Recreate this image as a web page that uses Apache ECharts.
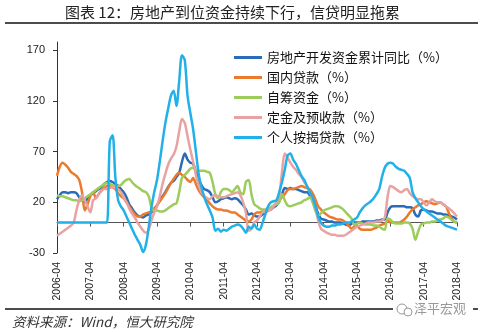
<!DOCTYPE html>
<html>
<head>
<meta charset="utf-8">
<script src="https://cdn.jsdelivr.net/npm/echarts@6/dist/echarts.min.js"></script>
<style>
  html, body { margin: 0; padding: 0; background: #fff; }
  #chart { width: 483px; height: 332px; }
</style>
</head>
<body>
<div id="chart"></div>
<script>
// Monthly categories, 2006-04 .. 2018-04
const months = [];
for (let y = 2006, m = 4; y < 2018 || (y === 2018 && m <= 4); ) {
  months.push(y + '-' + String(m).padStart(2, '0'));
  m++; if (m > 12) { m = 1; y++; }
}

const yTicks = [-30, 20, 70, 120, 170];

const seriesNames = [
  '房地产开发资金累计同比（%）',
  '国内贷款（%）',
  '自筹资金（%）',
  '定金及预收款（%）',
  '个人按揭贷款（%）'
];

// 房地产开发资金累计同比
const devFunds = [
  23, 27, 30, 30, 29, 30, 30, 29, 25, 22, 20, 24,
  27, 29, 31, 33, 35, 38, 40, 41, 40, 38, 36, 33,
  30, 25, 18, 14, 10, 7, 6, 5, 7, 8, 10, 13,
  17, 22, 26, 30, 35, 39, 41, 45, 49, 60, 68, 62,
  59, 58, 50, 42, 37, 33, 32, 30, 25, 20, 21, 23,
  24, 25, 24, 23, 24, 23, 20, 17, 13, 8, 9, 7,
  6, 6, 8, 10, 12, 13, 15, 17, 21, 28, 34, 33,
  34, 33, 33, 32, 31, 30, 30, 27, 24, 17, 9, 4,
  3, 2, 1, 1, 0, 0, 0, -1, -2, -3, -1, 0,
  0, 0, 1, 1, 1, 1, 1, 2, 2, 3, 3, 10,
  15, 16, 16, 16, 16, 16, 15, 15, 14, 8, 6, 12,
  13, 12, 11, 11, 10, 9, 9, 8, 8, 7, 6, 5, 3
];

// 国内贷款
const domesticLoans = [
  46, 55, 59, 57, 54, 50, 48, 46, 42, 30, 12, 18,
  26, 30, 24, 28, 32, 34, 36, 36, 35, 33, 29, 26,
  24, 20, 16, 12, 8, 6, 6, 8, 9, 10, 11, 14,
  17, 21, 25, 29, 34, 39, 43, 47, 49, 47, 45, 42,
  40, 44, 38, 32, 28, 25, 22, 19, 16, 14, 13, 13,
  12, 12, 11, 10, 10, 8, 6, 4, 2, 1, 3, 8,
  10, 10, 11, 11, 12, 13, 16, 19, 23, 25, 28, 32,
  33, 33, 34, 35, 36, 35, 34, 33, 29, 23, 16, 13,
  10, 8, 6, 5, 4, 3, 3, 2, 0, -3, -6, -4,
  -3, -6, -7, -7, -7, -7, -6, -5, -3, -2, -1, 2,
  0, 0, 0, 0, 1, 3, 6, 10, 13, 15, 17, 18,
  20, 21, 20, 19, 18, 19, 20, 18, 16, 10, 4, 1, 0
];

// 自筹资金
const selfRaised = [
  27, 26, 26, 25, 24, 23, 22, 22, 21, 22, 24, 26,
  28, 30, 32, 34, 36, 38, 39, 38, 37, 36, 36, 37,
  40, 42, 43, 40, 37, 35, 33, 31, 30, 26, 15, 12,
  12, 11, 11, 12, 14, 16, 18, 19, 30, 44, 47, 50,
  53, 54, 52, 51, 51, 51, 50, 49, 40, 28, 24, 30,
  33, 33, 32, 30, 33, 36, 30, 28, 40, 42, 28, 18,
  16, 14, 13, 13, 14, 15, 17, 18, 20, 28, 22, 17,
  16, 17, 18, 19, 20, 22, 23, 25, 20, 12, 7, 9,
  12, 13, 14, 15, 16, 16, 15, 13, 10, 7, 4, -2,
  -1, 0, -1, -2, -2, -2, -3, -3, -4, -6, -7, 4,
  3, 0, -1, -1, -1, 0, 0, -1, -6, -17, -9, -2,
  -1, 0, 0, 1, 1, 2, 3, 4, 6, 5, 3, 1, 0
];

// 定金及预收款
const deposits = [
  -13, -11, -9, -7, -5, -3, 0, 12, 22, 27, 22, 16,
  10, 22, 24, 28, 31, 33, 33, 34, 35, 34, 33, 30,
  25, 20, 14, 9, 5, 0, -4, -8, -10, -7, 2, 10,
  16, 26, 38, 48, 57, 63, 67, 75, 90, 102, 98, 85,
  72, 60, 47, 37, 30, 26, 24, 23, 26, 27, 26, 25,
  25, 26, 27, 28, 29, 30, 27, 20, 10, -8, -6, 0,
  2, 6, 10, 11, 12, 13, 16, 20, 27, 50, 68, 64,
  59, 55, 52, 48, 45, 40, 36, 30, 24, 15, 2, -6,
  -8, -10, -11, -12, -12, -13, -13, -13, -12, -10, -8, -6,
  -4, -3, -2, -1, 0, 0, 0, 1, 1, 2, 5, 25,
  36, 35, 33, 31, 30, 32, 33, 29, 26, 24, 23, 23,
  20, 17, 20, 23, 21, 20, 20, 18, 16, 14, 12, 9, 6
];

// 个人按揭贷款
const mortgages = [
  0, 0, 0, 0, 0, 0, 0, 0, 0, 0, 0, 0,
  0, 0, 0, 0, 0, 0, 0, 80, 86, 45, 22, 16,
  12, 6, 0, -6, -12, -17, -22, -29, -22, -5, 15, 30,
  42, 60, 80, 98, 112, 125, 130, 115, 140, 165, 160, 125,
  108, 92, 70, 48, 35, 25, 18, 12, 5, -8, -6, -9,
  -7, -8, -6, -4, -3, -2, -3, -6, -10, -4, -6, -2,
  -6, -7, 0, 8, 16, 20, 21, 22, 30, 40, 52, 66,
  68, 62, 58, 52, 46, 42, 36, 30, 25, 16, 6, 0,
  -3, -4, -4, -3, -3, -2, -2, -1, 0, 0, 1, 3,
  5, 10, 14, 17, 19, 21, 24, 28, 33, 45, 54, 58,
  59, 58, 55, 53, 52, 51, 48, 44, 30, 24, 20, 16,
  13, 11, 9, 7, 5, 3, 1, -1, -3, -4, -5, -6, -7
];

const seriesData = [devFunds, domesticLoans, selfRaised, deposits, mortgages];
const colors = ['#2a6cb8', '#ec7a2c', '#9dcc5c', '#e8a2a2', '#21b0e8'];

const chart = echarts.init(document.getElementById('chart'), null, { renderer: 'canvas' });

const cjk = "'Noto Sans CJK SC', sans-serif";
const latin = "'Liberation Sans', Arial, sans-serif";

chart.setOption({
  animation: false,
  backgroundColor: '#fff',
  color: colors,
  grid: { left: 57, right: 26, top: 42, bottom: 79, containLabel: false },
  legend: {
    orient: 'vertical',
    left: 229,
    top: 46,
    itemWidth: 28,
    itemHeight: 3,
    itemGap: 7,
    icon: 'rect',
    data: seriesNames,
    textStyle: { fontFamily: cjk, fontSize: 13, color: '#111', lineHeight: 13 }
  },
  xAxis: [
    {
      type: 'category',
      data: months,
      boundaryGap: false,
      position: 'bottom',
      axisLine: { onZero: true, lineStyle: { color: '#555', width: 1 } },
      axisTick: { show: true, interval: 11, length: 4, lineStyle: { color: '#555' } },
      axisLabel: { show: false },
      splitLine: { show: false }
    },
    {
      type: 'category',
      data: months,
      boundaryGap: false,
      position: 'bottom',
      axisLine: { show: false, onZero: false },
      axisTick: { show: false },
      axisLabel: {
        show: true, interval: 11, rotate: 90, margin: 9,
        fontFamily: latin, fontSize: 10.5, color: '#222'
      },
      splitLine: { show: false }
    }
  ],
  yAxis: {
    type: 'value',
    min: -30,
    max: 178,
    interval: 50,
    axisLine: { show: true, lineStyle: { color: '#333', width: 1 } },
    axisTick: { show: true, length: 4, customValues: yTicks, lineStyle: { color: '#333' } },
    axisLabel: {
      customValues: yTicks, margin: 12,
      fontFamily: latin, fontSize: 11, color: '#222'
    },
    splitLine: { show: false }
  },
  series: seriesNames.map((name, i) => ({
    name,
    type: 'line',
    xAxisIndex: 0,
    data: seriesData[i],
    showSymbol: false,
    smooth: 0.3,
    lineStyle: { width: 2.5, color: colors[i] },
    itemStyle: { color: colors[i] }
  })),
  graphic: [
    {
      type: 'text', left: 65, top: 5,
      style: { text: '图表 12：房地产到位资金持续下行，信贷明显拖累', font: "15px 'Noto Sans CJK SC'", fill: '#222' }
    },
    {
      type: 'line', shape: { x1: 5, y1: 23, x2: 478, y2: 23 },
      style: { stroke: '#111', lineWidth: 1.6 }
    },
    {
      type: 'line', shape: { x1: 5, y1: 309, x2: 478, y2: 309 },
      style: { stroke: '#111', lineWidth: 1.6 }
    },
    {
      type: 'text', left: 12, top: 315,
      style: { text: '资料来源：Wind，恒大研究院', font: "italic 13.5px 'Noto Sans CJK SC'", fill: '#333' }
    },
    { type: 'rect', shape: { x: 393, y: 301, width: 80, height: 17 }, style: { fill: '#fff' } },
    { type: 'circle', shape: { cx: 402, cy: 309, r: 5 }, style: { fill: 'none', stroke: '#999', lineWidth: 1 } },
    { type: 'circle', shape: { cx: 408, cy: 312, r: 4 }, style: { fill: '#fff', stroke: '#999', lineWidth: 1 } },
    {
      type: 'text', left: 414, top: 302,
      style: { text: '泽平宏观', font: "13px 'Noto Sans CJK SC'", fill: '#999' }
    }
  ]
});
</script>
</body>
</html>
